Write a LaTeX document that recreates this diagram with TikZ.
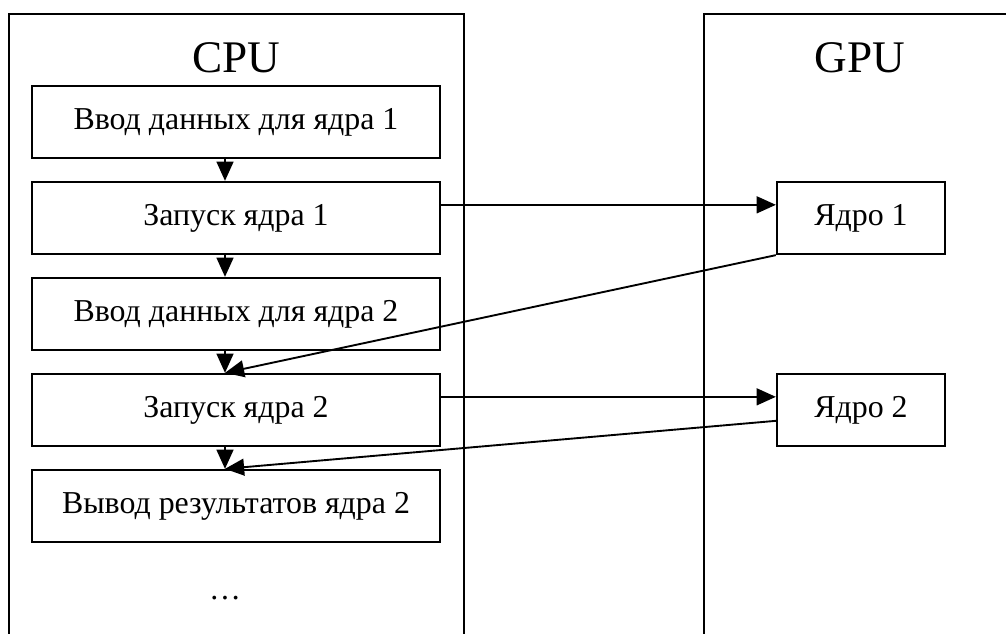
\documentclass[tikz,border=0pt]{standalone}
\usepackage{fontspec}
\setmainfont{Liberation Serif}
\usetikzlibrary{arrows.meta,calc}
\tikzset{
  frame/.style={line width=0.65pt},
  stepbox/.style={draw, line width=0.8pt, minimum width=408*0.345pt,
    minimum height=72*0.345pt, inner sep=0pt, font=\fontsize{11}{13}\selectfont},
  kernbox/.style={stepbox, minimum width=168*0.345pt},
  title/.style={anchor=base, font=\fontsize{15.6}{18}\selectfont},
  conn/.style={line width=0.65pt, -{Triangle[length=6.6pt,width=5.8pt]}}
}
\begin{document}
\begin{tikzpicture}[x=0.345pt,y=-0.345pt]
\useasboundingbox (0,0) rectangle (1006,634);
\clip (0,0) rectangle (1006,634);
% open-bottomed frames for the two devices
\draw[frame] (9,660) -- (9,14) -- (464,14) -- (464,660);
\draw[frame] (704,660) -- (704,14) -- (1030,14);
\node[title] (cpu) at (236,73) {CPU};
\node[title] (gpu) at (860,73) {GPU};
% host-side steps
\node[stepbox] (b1) at (236,122) {Ввод данных для ядра 1};
\node[stepbox] (b2) at (236,218) {Запуск ядра 1};
\node[stepbox] (b3) at (236,314) {Ввод данных для ядра 2};
\node[stepbox] (b4) at (236,410) {Запуск ядра 2};
\node[stepbox] (b5) at (236,506) {Вывод результатов ядра 2};
\node[anchor=base, font=\fontsize{11}{13}\selectfont] (dots) at (225,599) {\ldots};
% device-side kernels
\node[kernbox] (k1) at (861,218) {Ядро 1};
\node[kernbox] (k2) at (861,410) {Ядро 2};
% control flow on the host
\draw[conn] ($(b1.south)+(-11,0)$) -- ($(b2.north)+(-11,0)$);
\draw[conn] ($(b2.south)+(-11,0)$) -- ($(b3.north)+(-11,0)$);
\draw[conn] ($(b3.south)+(-11,0)$) -- ($(b4.north)+(-11,0)$);
\draw[conn] ($(b4.south)+(-11,0)$) -- ($(b5.north)+(-11,0)$);
% launches and returns
\draw[conn] ($(b2.north east)+(0,24)$) -- ($(k1.north west)+(0,24)$);
\draw[conn] (k1.south west) -- ($(b4.north)+(-11,0)$);
\draw[conn] ($(b4.north east)+(0,24)$) -- ($(k2.north west)+(0,24)$);
\draw[conn] ($(k2.north west)+(0,48)$) -- ($(b5.north)+(-11,0)$);
\end{tikzpicture}
\end{document}
